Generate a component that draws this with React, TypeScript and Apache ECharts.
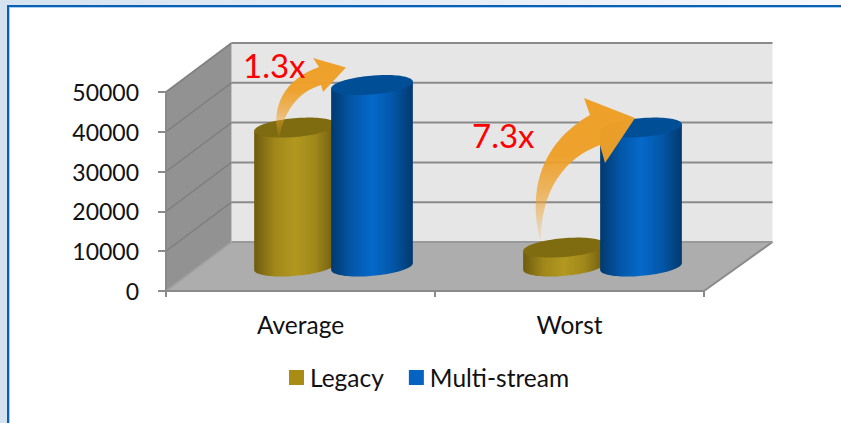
import React, { useEffect, useRef } from "react";
import * as echarts from "echarts";

const categories = ["Average", "Worst"];
const yTicks = [0, 10000, 20000, 30000, 40000, 50000];
const legacyValues = [34900, 4750];
const multiStreamValues = [45600, 34900];
const seriesNames = ["Legacy", "Multi-stream"];
const ratioLabels = ["1.3x", "7.3x"];

const FONT = "Lato";
const DEPTH_X = 65.5;
const DEPTH_Y = 49;
const BACK_EXTRA = 3;
const BAR_A = 41;
const BAR_B = 9.4;
const TILT = (5 * Math.PI) / 180;
const BAR_STEP = 38.5;

const arrowPath1 =
  "M279 138 C270 108 284 79 319 67 L313 58 L346 67.5 L323 92 L321 85 C298 92 285 110 279 138 Z";
const arrowPath2 =
  "M541 243 C528 195 538 145 590 115 L584 98 L635 118 L605 163 L600 145 C565 158 540 190 541 243 Z";

echarts.graphic.registerShape("arrowA", echarts.graphic.extendPath(arrowPath1, {}));
echarts.graphic.registerShape("arrowB", echarts.graphic.extendPath(arrowPath2, {}));

function ellPoint(cx: number, cy: number, t: number) {
  const ex = BAR_A * Math.cos(t);
  const ey = BAR_B * Math.sin(t);
  return [cx + ex * Math.cos(TILT) + ey * Math.sin(TILT), cy - ex * Math.sin(TILT) + ey * Math.cos(TILT)];
}

function makeCylinderRender(sign: number, sideStops: string[], topColor: string) {
  return (params: any, api: any) => {
    const cat = api.value(0);
    const val = api.value(1);
    const frac = 0.5;
    const base = api.coord([cat, 0]);
    const top = api.coord([cat, val]);
    const cx = base[0] + 33 + sign * BAR_STEP;
    const by = base[1] - DEPTH_Y * frac;
    const ty = top[1] - DEPTH_Y * frac;
    const body: number[][] = [];
    const N = 48;
    // the body: from the top's left end, along the bottom's front half, to the top's right end
    body.push(ellPoint(cx, ty, Math.PI));
    for (let i = 0; i <= N; i++) body.push(ellPoint(cx, by, Math.PI - (i / N) * Math.PI));
    body.push(ellPoint(cx, ty, 0));
    const cap: number[][] = [];
    for (let i = 0; i < N * 2; i++) cap.push(ellPoint(cx, ty, (i / (N * 2)) * 2 * Math.PI));
    const stops = sideStops.map((color, i) => ({ offset: i / (sideStops.length - 1), color }));
    return {
      type: "group",
      children: [
        {
          type: "polygon",
          shape: { points: body },
          style: { fill: new echarts.graphic.LinearGradient(0, 0, 1, 0, stops) },
        },
        { type: "polygon", shape: { points: cap }, style: { fill: topColor } },
      ],
    };
  };
}

const renderWalls = (params: any, api: any) => {
  const val = api.value(1);
  const band = api.size([1, 0])[0];
  const left = api.coord([0, val])[0] - band / 2;
  const right = api.coord([1, val])[0] + band / 2;
  const y = api.coord([0, val])[1];
  const y0 = api.coord([0, 0])[1];
  const yMax = api.coord([0, yTicks[yTicks.length - 1]])[1];
  const backL = left + DEPTH_X;
  const backR = right + DEPTH_X + BACK_EXTRA;
  const lineColor = "#8a8a8a";
  const children: any[] = [];
  if (params.dataIndex === 0) {
    children.push(
      {
        type: "rect",
        shape: { x: backL, y: yMax - DEPTH_Y, width: backR - backL, height: y0 - yMax },
        style: { fill: "#e6e6e6" },
      },
      {
        type: "polygon",
        shape: {
          points: [[left, yMax], [backL, yMax - DEPTH_Y], [backL, y0 - DEPTH_Y], [left, y0]],
        },
        style: { fill: "#929292" },
      },
      {
        type: "polygon",
        shape: {
          points: [[left, y0], [backL, y0 - DEPTH_Y], [backR, y0 - DEPTH_Y], [right, y0]],
        },
        style: { fill: "#adadad" },
      },
      {
        type: "line",
        shape: { x1: right, y1: y0, x2: backR, y2: y0 - DEPTH_Y },
        style: { stroke: lineColor, lineWidth: 2 },
      }
    );
  }
  children.push(
    {
      type: "line",
      shape: { x1: backL, y1: y - DEPTH_Y, x2: backR, y2: y - DEPTH_Y },
      style: { stroke: val === 0 ? "#9a9a9a" : lineColor, lineWidth: 2 },
    },
    {
      type: "line",
      shape: { x1: left, y1: y, x2: backL, y2: y - DEPTH_Y },
      style: { stroke: val === 0 ? "#a0a0a0" : "#808080", lineWidth: 1.6 },
    }
  );
  return { type: "group", children };
};

const arrowFill = () =>
  new echarts.graphic.LinearGradient(0, 1, 0, 0, [
    { offset: 0, color: "rgba(238,160,40,0.08)" },
    { offset: 0.35, color: "rgba(238,160,40,0.7)" },
    { offset: 0.6, color: "rgba(238,160,40,0.97)" },
    { offset: 1, color: "rgba(238,160,40,1)" },
  ]);

export default function App() {
  const ref = useRef<HTMLDivElement>(null);
  useEffect(() => {
    const chart = echarts.init(ref.current!, undefined, { renderer: "svg" });
    chart.setOption({
      animation: false,
      backgroundColor: "transparent",
      grid: { left: 166, right: 137, top: 92, bottom: 132 },
      legend: {
        data: seriesNames,
        left: 284,
        top: 360,
        icon: "rect",
        itemWidth: 15,
        itemHeight: 15,
        itemGap: 25,
        textStyle: { fontFamily: FONT, fontSize: 24.5, color: "#111111", padding: [0, 0, 0, 1] },
      },
      xAxis: {
        type: "category",
        data: categories,
        z: 10,
        axisLine: { show: true, lineStyle: { color: "#8a8a8a", width: 2 } },
        axisTick: { show: true, length: 6, alignWithLabel: false, lineStyle: { color: "#8a8a8a", width: 2 } },
        axisLabel: { fontFamily: FONT, fontSize: 24.5, color: "#111111", margin: 21 },
      },
      yAxis: {
        type: "value",
        min: 0,
        max: 50000,
        interval: 10000,
        z: 10,
        splitLine: { show: false },
        axisLine: { show: true, lineStyle: { color: "#8a8a8a", width: 2 } },
        axisTick: { show: true, length: 8, lineStyle: { color: "#8a8a8a", width: 2 } },
        axisLabel: {
          fontFamily: FONT,
          fontSize: 23,
          color: "#111111",
          margin: 27,
          formatter: (v: number) => String(v),
        },
      },
      series: [
        {
          name: "walls",
          type: "custom",
          z: 1,
          silent: true,
          clip: false,
          renderItem: renderWalls,
          encode: { x: 0, y: 1 },
          data: yTicks.map((v) => [0, v]),
        },
        {
          name: seriesNames[0],
          type: "custom",
          z: 2,
          clip: false,
          itemStyle: { color: "#a88c14" },
          renderItem: makeCylinderRender(-1, ["#6e5c0e", "#a0871a", "#b2981f", "#a0871a", "#6e5c0e"], "#7f6c10"),
          encode: { x: 0, y: 1 },
          data: legacyValues.map((v, i) => [i, v]),
        },
        {
          name: seriesNames[1],
          type: "custom",
          z: 3,
          clip: false,
          itemStyle: { color: "#0563c1" },
          renderItem: makeCylinderRender(1, ["#02396f", "#0357a8", "#0569cb", "#0357a8", "#02396f"], "#004f96"),
          encode: { x: 0, y: 1 },
          data: multiStreamValues.map((v, i) => [i, v]),
        },
      ],
      graphic: [
        { type: "arrowA", z: 100, x: 0, y: 0, style: { fill: arrowFill() } },
        { type: "arrowB", z: 100, x: 0, y: 0, style: { fill: arrowFill() } },
        {
          type: "text",
          z: 101,
          x: 243,
          y: 48,
          style: { text: ratioLabels[0], fill: "#ff0000", font: "33px Lato" },
        },
        {
          type: "text",
          z: 101,
          x: 472,
          y: 118,
          style: { text: ratioLabels[1], fill: "#ff0000", font: "33px Lato" },
        },
      ],
    });
    return () => chart.dispose();
  }, []);
  return (
    <div
      style={{
        position: "absolute",
        left: 0,
        top: 0,
        width: 841,
        height: 423,
        overflow: "hidden",
        background: "linear-gradient(90deg,#d5e3f0 0%,#e6edf6 50%,#f6f8fc 100%)",
      }}
    >
      <div
        style={{
          position: "absolute",
          left: 7,
          top: 5,
          width: 900,
          height: 500,
          boxSizing: "border-box",
          background: "#ffffff",
          border: "2.5px solid #0f5fb0",
          boxShadow: "inset 1px 1px 0 #a6d0f5",
        }}
      />
      <div ref={ref} style={{ position: "absolute", left: 0, top: 0, width: 841, height: 423 }} />
    </div>
  );
}
